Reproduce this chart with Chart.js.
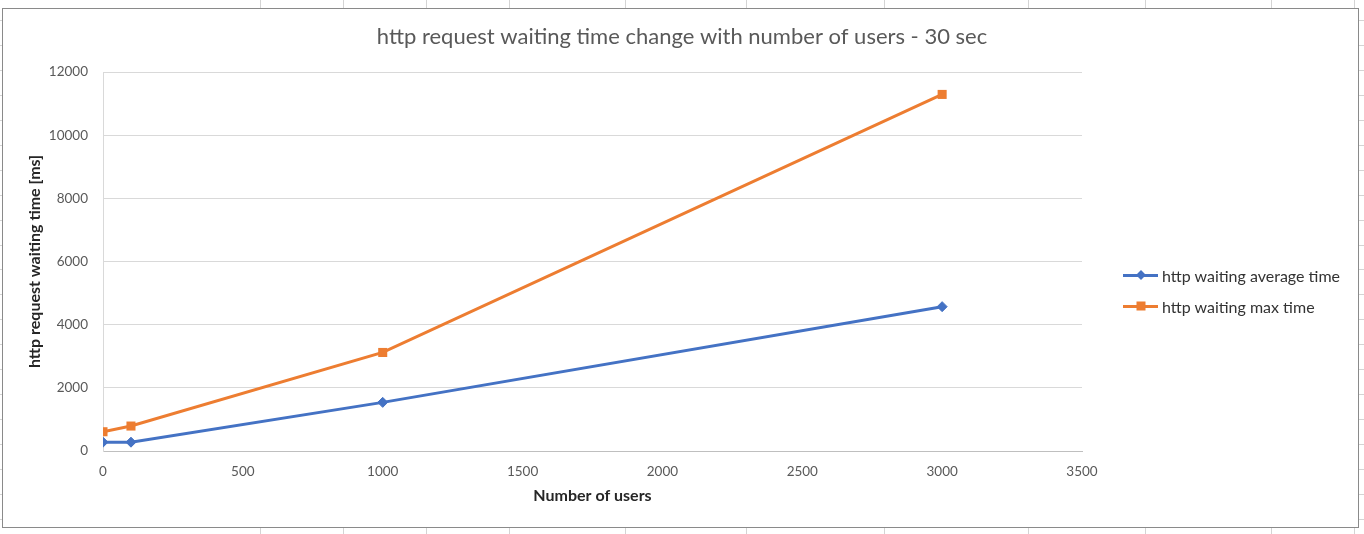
<!DOCTYPE html>
<html>
<head>
<meta charset="utf-8">
<script src="https://cdn.jsdelivr.net/npm/chart.js@4"></script>
<style>
  body { margin: 0; background: #fff; }
  #wrap { position: relative; width: 1364px; height: 534px; }
  #legend { position: absolute; left: 1123px; top: 264px; font: 16px Lato, sans-serif; color: #333; }
  .item { display: flex; align-items: center; height: 22px; margin-bottom: 9px; white-space: nowrap; }
  .swatch { position: relative; width: 35px; height: 3px; }
  .mark { position: absolute; left: 50%; top: 50%; }
  .item span.txt { margin-left: 4px; }
</style>
</head>
<body>
<div id="wrap">
  <canvas id="usersChart" width="1364" height="534"></canvas>
  <div id="legend"></div>
</div>
<script>
// number of users vs waiting time (ms)
const users = [0, 100, 1000, 3000];
const avgTime = [280, 280, 1540, 4570];
const maxTime = [610, 790, 3120, 11290];
const seriesNames = ['http waiting average time', 'http waiting max time'];
const seriesColors = ['#4472C4', '#ED7D31'];
const xTicks = [0, 500, 1000, 1500, 2000, 2500, 3000, 3500];
const yTicks = [0, 2000, 4000, 6000, 8000, 10000, 12000];

// excel sheet columns behind the chart
const sheetCols = [260, 343, 426, 509, 625, 746, 884, 1028, 1145, 1271, 1354];

const sheetBackground = {
  id: 'sheetBackground',
  beforeDraw(chart) {
    const c = chart.ctx;
    c.save();
    c.fillStyle = '#fff';
    c.fillRect(0, 0, chart.width, chart.height);
    c.strokeStyle = '#d4d4d4';
    c.lineWidth = 1;
    sheetCols.forEach(x => {
      c.beginPath(); c.moveTo(x + 0.5, 0); c.lineTo(x + 0.5, chart.height); c.stroke();
    });
    for (let y = 20; y < chart.height; y += 24.95) {
      const py = Math.round(y) + 0.5;
      c.beginPath(); c.moveTo(0, py); c.lineTo(chart.width, py); c.stroke();
    }
    c.fillStyle = '#fff';
    c.fillRect(2, 8, 1357, 519);
    c.strokeStyle = '#8a8a8a';
    c.strokeRect(2.5, 8.5, 1356, 519);
    c.restore();
  }
};

const toPoints = vals => users.map((u, i) => ({ x: u, y: vals[i] }));
const plain = v => String(v);

const ctx = document.getElementById('usersChart');
new Chart(ctx, {
  type: 'scatter',
  data: {
    datasets: [{
      label: seriesNames[0],
      data: toPoints(avgTime),
      showLine: true,
      borderColor: seriesColors[0],
      backgroundColor: seriesColors[0],
      borderWidth: 3,
      pointStyle: 'rectRot',
      pointRadius: 5,
      pointBorderWidth: 1
    }, {
      label: seriesNames[1],
      data: toPoints(maxTime),
      showLine: true,
      borderColor: seriesColors[1],
      backgroundColor: seriesColors[1],
      borderWidth: 3,
      pointStyle: 'rect',
      pointRadius: 6.4,
      pointBorderWidth: 0
    }]
  },
  options: {
    responsive: false,
    animation: false,
    devicePixelRatio: 1,
    layout: { padding: 0 },
    plugins: {
      legend: { display: false },
      tooltip: { enabled: false },
      title: {
        display: true,
        text: 'http request waiting time change with number of users - 30 sec',
        color: '#595959',
        font: { family: 'Lato', size: 22, weight: 'normal' },
        padding: { top: 23.8, bottom: 21.8 }
      }
    },
    scales: {
      x: {
        type: 'linear',
        min: xTicks[0],
        max: xTicks[xTicks.length - 1],
        afterBuildTicks: s => { s.ticks = xTicks.map(v => ({ value: v })); },
        ticks: { color: '#595959', font: { family: 'Lato', size: 13.5 }, padding: 13, callback: plain },
        grid: { display: false, drawTicks: false },
        border: { color: '#bfbfbf' },
        title: {
          display: true,
          text: 'Number of users',
          color: '#262626',
          font: { family: 'Lato', size: 16, weight: 'bold' },
          padding: { top: 0, bottom: 28.4 }
        },
        afterFit: s => { s.height = 83; }
      },
      y: {
        min: yTicks[0],
        max: yTicks[yTicks.length - 1],
        afterBuildTicks: s => { s.ticks = yTicks.map(v => ({ value: v })); },
        ticks: { color: '#595959', font: { family: 'Lato', size: 13.5 }, padding: 15, callback: plain },
        grid: { color: '#d9d9d9', drawTicks: false },
        border: { color: '#d9d9d9' },
        title: {
          display: true,
          text: 'http request waiting time [ms]',
          color: '#262626',
          font: { family: 'Lato', size: 16, weight: 'bold' },
          padding: { top: 25.4, bottom: 0 }
        },
        afterFit: s => { s.width = 103; }
      },
      // empty right-hand space where the legend sits
      spacer: {
        position: 'right',
        grid: { display: false },
        border: { display: false },
        ticks: { display: false },
        afterFit: s => { s.width = 282; }
      }
    }
  },
  plugins: [sheetBackground]
});

// legend like excel: line with marker
const legend = document.getElementById('legend');
seriesNames.forEach((name, i) => {
  const item = document.createElement('div');
  item.className = 'item';
  const sw = document.createElement('div');
  sw.className = 'swatch';
  sw.style.background = seriesColors[i];
  const mk = document.createElement('div');
  mk.className = 'mark';
  mk.style.background = seriesColors[i];
  if (i === 0) {
    mk.style.width = '7px'; mk.style.height = '7px';
    mk.style.transform = 'translate(-50%, -50%) rotate(45deg)';
  } else {
    mk.style.width = '9px'; mk.style.height = '9px';
    mk.style.transform = 'translate(-50%, -50%)';
  }
  sw.appendChild(mk);
  const txt = document.createElement('span');
  txt.className = 'txt';
  txt.textContent = name;
  item.appendChild(sw);
  item.appendChild(txt);
  legend.appendChild(item);
});
</script>
</body>
</html>
